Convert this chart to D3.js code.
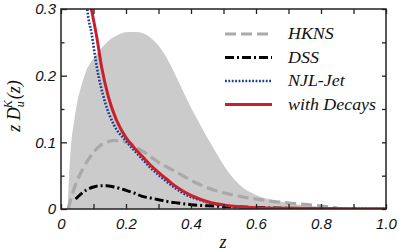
<!DOCTYPE html>
<html>
<head>
<meta charset="utf-8">
<script src="https://cdn.jsdelivr.net/npm/d3@7"></script>
<style>
  body { margin: 0; background: #fff; }
  .tick text { font-family: "Liberation Sans", Arial, sans-serif; font-style: italic; font-size: 15px; fill: #111; }
  .serif { font-family: "Liberation Serif", "Times New Roman", serif; font-style: italic; fill: #111; }
</style>
</head>
<body>
<div id="chart"></div>
<script>
// uncertainty band (upper edge, lower edge is 0)
const bandZ = [0.02, 0.025, 0.03, 0.04, 0.05, 0.06, 0.075, 0.1, 0.125, 0.15, 0.175, 0.2, 0.22, 0.24, 0.26, 0.28, 0.3, 0.32, 0.34, 0.36, 0.38, 0.4, 0.42, 0.44, 0.46, 0.48, 0.5, 0.52, 0.55, 0.6, 0.65, 0.7, 0.75, 0.8, 0.85, 0.9, 0.95, 1.0];
const bandHigh = [0, 0.05, 0.09, 0.13, 0.16, 0.18, 0.204, 0.226, 0.242, 0.254, 0.261, 0.265, 0.2655, 0.265, 0.262, 0.255, 0.245, 0.231, 0.213, 0.193, 0.172, 0.152, 0.134, 0.116, 0.099, 0.082, 0.066, 0.052, 0.036, 0.021, 0.0135, 0.009, 0.0055, 0.003, 0.0018, 0.001, 0.0005, 0.0002];

const hknsZ = [0.022, 0.03, 0.04, 0.05, 0.065, 0.08, 0.1, 0.12, 0.14, 0.16, 0.18, 0.2, 0.22, 0.24, 0.26, 0.28, 0.3, 0.33, 0.36, 0.4, 0.44, 0.48, 0.52, 0.56, 0.6, 0.65, 0.7, 0.75, 0.8, 0.85];
const hknsVal = [0, 0.014, 0.03, 0.043, 0.058, 0.071, 0.085, 0.095, 0.1, 0.1025, 0.1025, 0.1, 0.096, 0.09, 0.084, 0.077, 0.07, 0.062, 0.054, 0.043, 0.034, 0.027, 0.022, 0.018, 0.015, 0.0115, 0.009, 0.0068, 0.0045, 0.0015];

const dssZ = [0.045, 0.06, 0.08, 0.1, 0.12, 0.14, 0.16, 0.18, 0.2, 0.225, 0.25, 0.275, 0.3, 0.33, 0.36, 0.4, 0.45, 0.5, 0.55, 0.6, 0.65, 0.7, 0.8];
const dssVal = [0.015, 0.022, 0.029, 0.033, 0.035, 0.035, 0.0335, 0.031, 0.028, 0.024, 0.019, 0.0165, 0.014, 0.011, 0.009, 0.0065, 0.0048, 0.0038, 0.003, 0.0022, 0.0015, 0.001, 0.0005];

const njlZ = [0.077, 0.081, 0.094, 0.11, 0.135, 0.162, 0.2, 0.225, 0.25, 0.275, 0.3, 0.325, 0.35, 0.375, 0.4, 0.43, 0.46, 0.5, 0.55, 0.6, 0.7, 0.8, 1.0];
const njlVal = [0.32, 0.2985, 0.2635, 0.2135, 0.161, 0.127, 0.102, 0.088, 0.075, 0.062, 0.051, 0.041, 0.032, 0.024, 0.018, 0.013, 0.0085, 0.0055, 0.003, 0.0015, 0.0008, 0.0005, 0.0003];

const decZ = [0.085, 0.094, 0.11, 0.125, 0.146, 0.17, 0.2, 0.225, 0.25, 0.275, 0.3, 0.325, 0.35, 0.375, 0.4, 0.43, 0.46, 0.5, 0.55, 0.6, 0.7, 0.8, 1.0];
const decVal = [0.32, 0.2985, 0.258, 0.213, 0.168, 0.134, 0.107, 0.092, 0.079, 0.066, 0.055, 0.045, 0.035, 0.027, 0.0205, 0.0145, 0.0097, 0.0062, 0.0035, 0.002, 0.001, 0.0006, 0.0003];

const legendNames = ["HKNS", "DSS", "NJL-Jet", "with Decays"];
const xTicks = [0, 0.1, 0.2, 0.3, 0.4, 0.5, 0.6, 0.7, 0.8, 0.9, 1.0];
const yTicks = [0, 0.05, 0.1, 0.15, 0.2, 0.25, 0.3];

const W = 399, H = 252;
const svg = d3.select("#chart").append("svg")
    .attr("width", W)
    .attr("height", H);

const x = d3.scaleLinear().domain([0, 1]).range([61, 386]);
const y = d3.scaleLinear().domain([0, 0.3]).range([209, 9]);

svg.append("clipPath").attr("id", "plot")
    .append("rect")
    .attr("x", x(0)).attr("y", y(0.3))
    .attr("width", x(1) - x(0)).attr("height", y(0) - y(0.3));

const plot = svg.append("g").attr("clip-path", "url(#plot)");

// band
const area = d3.area()
    .x(d => x(d[0]))
    .y0(y(0))
    .y1(d => y(d[1]))
    .curve(d3.curveMonotoneX);
plot.append("path")
    .datum(d3.zip(bandZ, bandHigh))
    .attr("d", area)
    .attr("fill", "#cbcbcb");

const line = d3.line()
    .x(d => x(d[0]))
    .y(d => y(d[1]))
    .curve(d3.curveMonotoneX);

const series = [
    { name: legendNames[0], z: hknsZ, v: hknsVal, color: "#a9a9a9", width: 3.2, dash: "11,5" },
    { name: legendNames[1], z: dssZ, v: dssVal, color: "#000", width: 3, dash: "9,3,2,3" },
    { name: legendNames[2], z: njlZ, v: njlVal, color: "#1a3d91", width: 2.6, dash: "1.8,1.6" },
    { name: legendNames[3], z: decZ, v: decVal, color: "#c8202f", width: 3, dash: null }
];

series.forEach(s => {
    plot.append("path")
        .datum(d3.zip(s.z, s.v))
        .attr("d", line)
        .attr("fill", "none")
        .attr("stroke", s.color)
        .attr("stroke-width", s.width)
        .attr("stroke-dasharray", s.dash);
});

// axes, ticks pointing inward
const fmt = d => d === 0 ? "0" : d3.format(".1f")(d);
const major = v => Math.abs(Math.round(v * 10) - v * 10) < 1e-6;

const axB = svg.append("g")
    .attr("transform", `translate(0,${y(0)})`)
    .call(d3.axisBottom(x).tickValues(xTicks).tickSize(-5).tickPadding(9)
        .tickFormat(d => Math.round(d * 10) % 2 === 0 ? fmt(d) : ""));
const axT = svg.append("g")
    .attr("transform", `translate(0,${y(0.3)})`)
    .call(d3.axisTop(x).tickValues(xTicks).tickSize(-5).tickFormat(""));
const axL = svg.append("g")
    .attr("transform", `translate(${x(0)},0)`)
    .call(d3.axisLeft(y).tickValues(yTicks).tickSize(-6).tickPadding(5)
        .tickFormat(d => major(d) ? fmt(d) : ""));
axL.selectAll(".tick line").attr("x2", d => major(d) ? 6 : 3.5);
const axR = svg.append("g")
    .attr("transform", `translate(${x(1)},0)`)
    .call(d3.axisRight(y).tickValues(yTicks).tickSize(-4).tickFormat(""));

[axB, axT, axL, axR].forEach(g => {
    g.select(".domain").remove();
    g.selectAll(".tick line").attr("stroke", "#222").attr("stroke-width", 1.3);
});

svg.append("rect")
    .attr("x", x(0)).attr("y", y(0.3))
    .attr("width", x(1) - x(0)).attr("height", y(0) - y(0.3))
    .attr("fill", "none")
    .attr("stroke", "#222")
    .attr("stroke-width", 1.5);

// axis labels
svg.append("text")
    .attr("class", "serif")
    .attr("x", 223).attr("y", 248)
    .attr("text-anchor", "middle")
    .style("font-size", "18px")
    .text("z");

const yl = svg.append("text")
    .attr("class", "serif")
    .attr("transform", "translate(20,106) rotate(-90)")
    .attr("text-anchor", "middle")
    .style("font-size", "18px");
yl.append("tspan").text("z D");
yl.append("tspan").attr("dy", 4).style("font-size", "12px").text("u");
yl.append("tspan").attr("dx", -7).attr("dy", -12).style("font-size", "12px").text("K");
yl.append("tspan").attr("dy", 8).attr("dx", 1).text("(z)");

// legend
const legend = svg.append("g");
series.forEach((s, i) => {
    const ly = 34 + i * 23.5;
    legend.append("line")
        .attr("x1", 225).attr("x2", 272)
        .attr("y1", ly).attr("y2", ly)
        .attr("stroke", s.color)
        .attr("stroke-width", s.width)
        .attr("stroke-dasharray", s.dash);
    legend.append("text")
        .attr("class", "serif")
        .attr("transform", `translate(288,${ly + 5}) scale(1.12,1)`)
        .style("font-size", "16px")
        .text(s.name);
});
</script>
</body>
</html>
